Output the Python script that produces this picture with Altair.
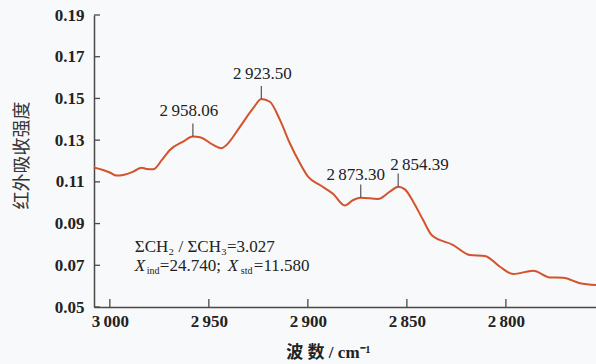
import altair as alt
import pandas as pd

# IR absorbance spectrum in the C-H stretching region
wavenumber = [3008.1, 3003.4, 3000.0, 2996.6, 2993.3, 2988.2, 2984.0, 2981.5, 2978.1,
              2973.7, 2969.7, 2963.0, 2958.06, 2954.5, 2947.8, 2943.6, 2941.1, 2934.3,
              2927.6, 2923.50, 2919.2, 2914.1, 2909.1, 2904.0, 2899.9, 2893.9, 2887.2,
              2881.3, 2877.1, 2873.30, 2864.6, 2858.6, 2854.39, 2851.0, 2846.8, 2841.8,
              2837.5, 2826.6, 2818.2, 2810.6, 2803.0, 2796.3, 2786.2, 2777.8, 2771.1,
              2762.6, 2754.5]
absorbance = [0.1169, 0.1157, 0.1145, 0.1130, 0.1133, 0.1149, 0.1168, 0.1162, 0.1160,
              0.1205, 0.1253, 0.1293, 0.1317, 0.1314, 0.1277, 0.1261, 0.1277, 0.1364,
              0.1453, 0.1497, 0.1484, 0.1397, 0.1285, 0.1189, 0.1125, 0.1085, 0.1042,
              0.0987, 0.1013, 0.1024, 0.1018, 0.1053, 0.1077, 0.1064, 0.1005, 0.0917,
              0.0845, 0.0797, 0.0749, 0.0745, 0.0693, 0.0658, 0.0674, 0.0642, 0.0640,
              0.0614, 0.0605]

# labelled band maxima
peak_wn = [2958.06, 2923.50, 2873.30, 2854.39]
peak_abs = [0.1317, 0.1497, 0.1024, 0.1077]
peak_labels = ["2\u2009958.06", "2\u2009923.50", "2\u2009873.30", "2\u2009854.39"]

x_ticks = [3000, 2950, 2900, 2850, 2800]
y_ticks = [0.05, 0.07, 0.09, 0.11, 0.13, 0.15, 0.17, 0.19]

ratio_text = "ΣCH₂ / ΣCH₃=3.027"
ind_value = "=24.740;"
std_value = "=11.580"

W, H = 502, 292
SERIF = "Liberation Serif"
MIXED = "'Liberation Serif', 'Noto Sans CJK SC'"
INK = "#222222"
AXIS_INK = "#4a4a4a"
RED = "#d4522c"

x_scale = alt.Scale(domain=[2754.5, 3008], reverse=True, nice=False, zero=False)
y_scale = alt.Scale(domain=[0.05, 0.19], nice=False, zero=False)

x_axis = alt.Axis(
    values=x_ticks, ticks=False, grid=False,
    labelExpr="replace(format(datum.value, ','), ',', '\u2009')",
    labelFont=SERIF, labelFontSize=17, labelFontWeight="bold", labelColor=INK,
    labelPadding=6, domainColor=AXIS_INK, domainWidth=1.5,
    title="波 数 / cm⁻¹", titleFont=MIXED, titleFontSize=17,
    titleFontWeight="bold", titleColor=INK,
    titleX=234, titleY=45, titleBaseline="middle", titleAlign="center")
y_axis = alt.Axis(
    values=y_ticks, format=".2f", ticks=False, grid=False,
    labelFont=SERIF, labelFontSize=17, labelFontWeight="bold", labelColor=INK,
    labelPadding=10, domainColor=AXIS_INK, domainWidth=1.5,
    title="红外吸收强度", titleFont=MIXED, titleFontSize=18,
    titleFontWeight="normal", titleColor="#333333",
    titleX=-72, titleY=140, titleBaseline="middle", titleAlign="center")

X = alt.X("wn:Q", scale=x_scale, axis=x_axis)
Y = alt.Y("absorbance:Q", scale=y_scale, axis=y_axis)

spec_df = pd.DataFrame({"wn": wavenumber, "absorbance": absorbance})
peak_df = pd.DataFrame({"wn": peak_wn, "absorbance": peak_abs, "label": peak_labels})

line = alt.Chart(spec_df).mark_line(
    color=RED, strokeWidth=2, interpolate="monotone"
).encode(x=X, y=Y, order=alt.Order("wn:Q", sort="descending"))

# inward tick marks on both axes
x_tick_marks = alt.Chart(pd.DataFrame({"wn": x_ticks})).mark_rule(
    color=AXIS_INK, strokeWidth=1.3
).encode(x=X, y=alt.value(H), y2=alt.value(H - 8))
y_tick_marks = alt.Chart(pd.DataFrame({"absorbance": y_ticks})).mark_rule(
    color=AXIS_INK, strokeWidth=1.3
).encode(y=Y, x=alt.value(0), x2=alt.value(6))

# leader lines above the labelled maxima
leaders = alt.Chart(peak_df).transform_calculate(
    top="datum.absorbance + 0.0063"
).mark_rule(color="#555555", strokeWidth=1.2).encode(x=X, y=Y, y2="top:Q")

label_style = [(-4, -21, "center"), (1, -20, "center"), (-5, -18, "center"), (-8, -17, "left")]
label_layers = []
for i, (dx, dy, align) in enumerate(label_style):
    label_layers.append(
        alt.Chart(peak_df.iloc[[i]]).mark_text(
            font=SERIF, fontSize=17, color=INK, align=align, baseline="alphabetic",
            dx=dx, dy=dy,
        ).encode(x=X, y=Y, text="label:N")
    )

# composition note in the lower left
note_x, note_y1, note_y2 = 2987.4, 0.0789, 0.0698
note_pieces = [
    (ratio_text, note_y1, 0, 0, 17, "normal"),
    ("X", note_y2, 0, 0, 17, "italic"),
    ("ind", note_y2, 12, 5, 10, "normal"),
    (ind_value, note_y2, 25, 0, 17, "normal"),
    ("X", note_y2, 93, 0, 17, "italic"),
    ("std", note_y2, 106, 5, 10, "normal"),
    (std_value, note_y2, 119, 0, 17, "normal"),
]
note_layers = []
for text, ny, dx, dy, size, style in note_pieces:
    note_layers.append(
        alt.Chart(pd.DataFrame({"wn": [note_x], "absorbance": [ny], "txt": [text]})).mark_text(
            font=SERIF, fontSize=size, fontStyle=style, color=INK,
            align="left", baseline="middle", dx=dx, dy=dy,
        ).encode(x=X, y=Y, text="txt:N")
    )

chart = alt.layer(
    line, x_tick_marks, y_tick_marks, leaders, *label_layers, *note_layers
).properties(
    width=W, height=H,
    autosize=alt.AutoSizeParams(type="none"),
    padding={"left": 94, "top": 15, "right": 0, "bottom": 57},
    background="#f8f9fa",
).configure_view(stroke=None)

chart.save("out.html", embed_options={"renderer": "svg", "actions": False})
